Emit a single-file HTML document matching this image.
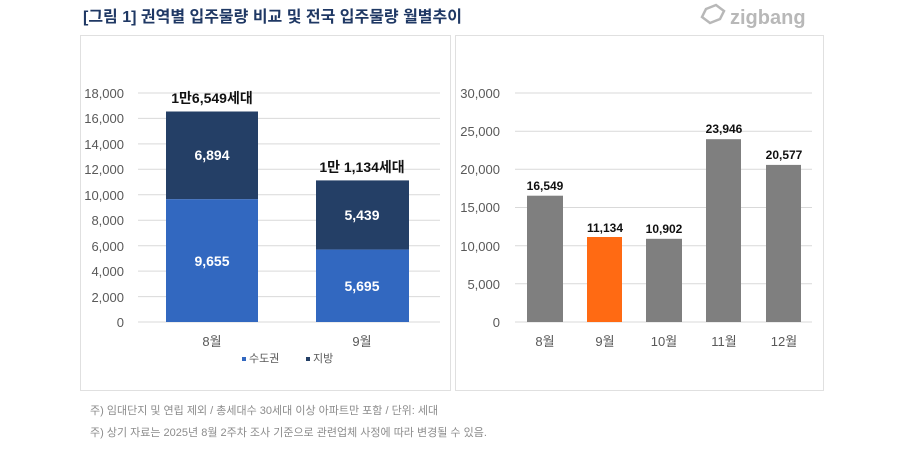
<!DOCTYPE html>
<html><head><meta charset="utf-8"><style>
body{margin:0;background:#fff;width:900px;height:450px;overflow:hidden;font-family:"Liberation Sans","Noto Sans CJK KR",sans-serif}
</style></head><body>
<svg width="900" height="450" xmlns="http://www.w3.org/2000/svg" font-family="Liberation Sans, Noto Sans CJK KR, sans-serif">
<text x="83" y="22" font-size="16" font-weight="bold" fill="#1f3864">[그림 1] 권역별 입주물량 비교 및 전국 입주물량 월별추이</text>
<g fill="none" stroke="#b8b8b8" stroke-width="2.5"><path d="M706 9 l10 -4 l8 6 l-4 8 l-10 4 l-8 -6z"/></g>
<text x="730" y="24" font-size="20" font-weight="bold" fill="#b8b8b8">zigbang</text>
<rect x="80.5" y="35.5" width="370" height="355" fill="#fff" stroke="#e0e0e0"/>
<rect x="455.5" y="35.5" width="368" height="355" fill="#fff" stroke="#e0e0e0"/>
<g stroke="#d9d9d9" stroke-width="1">
<line x1="138" x2="440" y1="93" y2="93"/><line x1="138" x2="440" y1="118.4" y2="118.4"/><line x1="138" x2="440" y1="143.9" y2="143.9"/><line x1="138" x2="440" y1="169.3" y2="169.3"/><line x1="138" x2="440" y1="194.8" y2="194.8"/><line x1="138" x2="440" y1="220.2" y2="220.2"/><line x1="138" x2="440" y1="245.7" y2="245.7"/><line x1="138" x2="440" y1="271.1" y2="271.1"/><line x1="138" x2="440" y1="296.6" y2="296.6"/><line x1="138" x2="440" y1="322" y2="322"/>
<line x1="515" x2="812" y1="93" y2="93"/><line x1="515" x2="812" y1="131.2" y2="131.2"/><line x1="515" x2="812" y1="169.3" y2="169.3"/><line x1="515" x2="812" y1="207.5" y2="207.5"/><line x1="515" x2="812" y1="245.7" y2="245.7"/><line x1="515" x2="812" y1="283.8" y2="283.8"/><line x1="515" x2="812" y1="322" y2="322"/>
</g>
<g font-size="13" fill="#595959" text-anchor="end">
<text x="124" y="98">18,000</text><text x="124" y="123">16,000</text><text x="124" y="149">14,000</text><text x="124" y="174">12,000</text><text x="124" y="200">10,000</text><text x="124" y="225">8,000</text><text x="124" y="251">6,000</text><text x="124" y="276">4,000</text><text x="124" y="302">2,000</text><text x="124" y="327">0</text>
<text x="500" y="98">30,000</text><text x="500" y="136">25,000</text><text x="500" y="174">20,000</text><text x="500" y="212">15,000</text><text x="500" y="251">10,000</text><text x="500" y="289">5,000</text><text x="500" y="327">0</text>
</g>
<rect x="166" y="111.5" width="92" height="87.7" fill="#243f66"/>
<rect x="166" y="199.2" width="92" height="122.8" fill="#3268c0"/>
<rect x="316" y="180.4" width="93" height="69.2" fill="#243f66"/>
<rect x="316" y="249.6" width="93" height="72.4" fill="#3268c0"/>
<g font-size="14" font-weight="bold" fill="#fff" text-anchor="middle">
<text x="212" y="160">6,894</text><text x="212" y="266">9,655</text>
<text x="362" y="220">5,439</text><text x="362" y="291">5,695</text>
</g>
<g font-size="14" font-weight="bold" fill="#111" text-anchor="middle">
<text x="212" y="103">1만6,549세대</text><text x="362" y="172">1만 1,134세대</text>
</g>
<g font-size="13" fill="#595959" text-anchor="middle">
<text x="212" y="346">8월</text><text x="362" y="346">9월</text>
<text x="545" y="346">8월</text><text x="605" y="346">9월</text><text x="664" y="346">10월</text><text x="724" y="346">11월</text><text x="784" y="346">12월</text>
</g>
<rect x="242" y="357" width="4" height="4" fill="#3268c0"/><text x="249" y="362" font-size="11" fill="#595959">수도권</text>
<rect x="306" y="357" width="4" height="4" fill="#243f66"/><text x="313" y="362" font-size="11" fill="#595959">지방</text>
<rect x="527" y="195.7" width="36" height="126.3" fill="#7f7f7f"/>
<rect x="587" y="237" width="35" height="85" fill="#ff6a13"/>
<rect x="646" y="238.8" width="36" height="83.2" fill="#7f7f7f"/>
<rect x="706" y="139.2" width="35" height="182.8" fill="#7f7f7f"/>
<rect x="766" y="164.9" width="35" height="157.1" fill="#7f7f7f"/>
<g font-size="12" font-weight="bold" fill="#111" text-anchor="middle">
<text x="545" y="190">16,549</text><text x="605" y="232">11,134</text><text x="664" y="233">10,902</text><text x="724" y="133">23,946</text><text x="784" y="159">20,577</text>
</g>
<g font-size="11" fill="#8c8c8c">
<text x="90" y="414">주) 임대단지 및 연립 제외 / 총세대수 30세대 이상 아파트만 포함 / 단위: 세대</text>
<text x="90" y="436">주) 상기 자료는 2025년 8월 2주차 조사 기준으로 관련업체 사정에 따라 변경될 수 있음.</text>
</g>
</svg>
</body></html>
